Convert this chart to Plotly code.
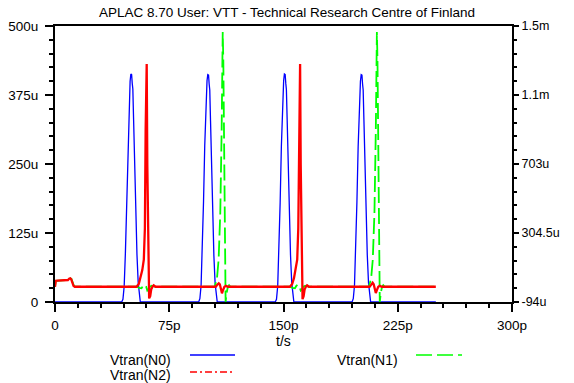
import plotly.graph_objects as go

# ---------------- data (time in ps, voltages in uV) ----------------
t_n0 = [0, 43.8, 44.6, 45.4, 46.2, 47.0, 47.8, 48.6, 49.3, 49.8, 50.3, 50.7, 51.1, 51.6, 52.3, 53.0, 53.8, 54.6, 55.4, 56.0,
        94.3, 95.1, 95.9, 96.7, 97.5, 98.3, 99.1, 99.8, 100.3, 100.8, 101.2, 101.6, 102.1, 102.8, 103.5, 104.3, 105.1, 105.9, 106.5,
        144.6, 145.4, 146.2, 147.0, 147.8, 148.6, 149.4, 150.1, 150.6, 151.1, 151.5, 151.9, 152.4, 153.1, 153.8, 154.6, 155.4, 156.2, 156.8,
        195.0, 195.8, 196.6, 197.4, 198.2, 199.0, 199.8, 200.5, 201.0, 201.5, 201.9, 202.3, 202.8, 203.5, 204.2, 205.0, 205.8, 206.6, 207.2,
        250]
v_n0 = [0, 0, 5, 28, 88, 178, 280, 358, 400, 413, 412, 396, 386, 330, 242, 160, 86, 36, 8, 0,
        0, 6, 30, 92, 182, 283, 360, 401, 412, 411, 395, 384, 328, 240, 158, 84, 34, 7, 0,
        0, 5, 29, 90, 180, 282, 359, 401, 413, 412, 396, 385, 330, 241, 159, 85, 35, 8, 0,
        0, 6, 30, 91, 181, 281, 358, 400, 412, 411, 395, 384, 329, 240, 158, 85, 35, 7, 0,
        0]

t_n1 = [0, 0.5, 5, 8.5, 9.3, 10.0, 10.8, 11.5, 12.4, 13.2,
        53.8, 55.2, 56.8, 57.8, 58.8, 59.8, 60.6, 61.3, 62.3, 63.5, 64.5, 66,
        104.8, 106.3, 107.4, 108.5, 109.4, 110.1, 110.5, 111.2, 112.0, 112.7, 113.5, 114.3, 115.2,
        154.5, 155.9, 157.5, 158.5, 159.5, 160.5, 161.3, 162.0, 163.0, 164.2, 165.2, 166.7,
        206.0, 207.5, 208.6, 209.7, 210.6, 211.3, 211.7, 212.4, 213.2, 213.9, 214.7, 215.5, 216.4,
        250]
v_n1 = [-6, 28, 31, 33, 40, 43, 40, 20, 0, -6,
        -6, -13, -15, 0, 6, -4, -28, -22, -6, 0, -3, -6,
        -6, 40, 150, 420, 900, 1465, 1300, 600, -94, -40, -6, 3, -6,
        -6, -13, -15, 0, 6, -4, -28, -22, -6, 0, -3, -6,
        -6, 40, 150, 420, 900, 1465, 1300, 600, -94, -40, -6, 3, -6,
        -6]

t_n2 = [0, 0.5, 1.5, 5, 8.5, 9.3, 10.0, 10.6, 11.3, 12.2, 13,
        53.5, 55.0, 56.2, 57.3, 58.3, 59.0, 59.5, 59.8, 60.2, 60.6, 61.2, 61.8, 62.5, 63.2, 64.0, 64.8, 66,
        105.5, 106.5, 107.5, 108.2, 109.0, 109.6, 110.3, 111.2, 112.2, 113.5,
        154.2, 155.7, 156.9, 158.0, 159.0, 159.7, 160.2, 160.5, 160.9, 161.3, 161.9, 162.5, 163.2, 163.9, 164.7, 165.5, 166.7,
        206.5, 207.5, 208.5, 209.2, 210.0, 210.6, 211.3, 212.2, 213.2, 214.5,
        250]
v_n2 = [-6, 28, 29, 31, 33, 40, 43, 38, 15, -2, -6,
        -6, 10, 45, 90, 150, 330, 900, 1280, 1280, 700, 150, -73, -60, -20, -6, 2, -6,
        -6, 5, 14, 8, -30, -44, -25, -6, -1, -6,
        -6, 10, 45, 90, 150, 330, 900, 1280, 1280, 700, 150, -78, -60, -20, -6, 2, -6,
        -6, 5, 17, 8, -30, -42, -25, -6, -1, -6,
        -6]

x_tickvals = [0, 75, 150, 225, 300]
x_ticktext = ["0", "75p", "150p", "225p", "300p"]
yl_tickvals = [0, 125, 250, 375, 500]
yl_ticktext = ["0", "125u", "250u", "375u", "500u"]
yr_tickvals = [-94, 304.5, 703, 1101.5, 1500]
yr_ticktext = ["-94u", "304.5u", "703u", "1.1m", "1.5m"]

series_names = ["Vtran(N0)", "Vtran(N1)", "Vtran(N2)"]

FONT = "Liberation Sans, Arial, sans-serif"
BLUE, GREEN, RED = "#0000ff", "#00ff00", "#ff0000"

fig = go.Figure()
fig.add_trace(go.Scatter(x=t_n0, y=v_n0, mode="lines", name=series_names[0],
                         line=dict(color=BLUE, width=1.3), yaxis="y", showlegend=False))
fig.add_trace(go.Scatter(x=t_n1, y=v_n1, mode="lines", name=series_names[1],
                         line=dict(color=GREEN, width=1.8, dash="16px,5px"), yaxis="y2", showlegend=False))
fig.add_trace(go.Scatter(x=t_n2, y=v_n2, mode="lines", name=series_names[2],
                         line=dict(color=RED, width=2.3), yaxis="y2", showlegend=False))

def axis_common(size, tl):
    return dict(showgrid=False, zeroline=False, showline=True, linecolor="black", linewidth=2,
                ticks="outside", tickcolor="black", tickwidth=2, ticklen=tl, automargin=False,
                tickfont=dict(family=FONT, size=size, color="black"))

fig.update_layout(
    width=574, height=383,
    margin=dict(l=55, r=62, t=26, b=81, autoexpand=False),
    paper_bgcolor="white", plot_bgcolor="white",
    showlegend=False,
    title=dict(text="APLAC 8.70 User: VTT - Technical Research Centre of Finland",
               x=0.5, xanchor="center", y=1 - 12 / 383, yanchor="middle", automargin=False,
               font=dict(family=FONT, size=13.5, color="black")),
    xaxis=dict(range=[0, 300], tickmode="array", tickvals=x_tickvals, ticktext=x_ticktext,
               mirror=True, layer="below traces", ticklabelstandoff=2,
               minor=dict(dtick=15, tick0=0, ticks="outside", ticklen=4, tickwidth=2, tickcolor="black"),
               **axis_common(13.5, 8)),
    yaxis=dict(range=[0, 500], tickmode="array", tickvals=yl_tickvals, ticktext=yl_ticktext,
               layer="below traces", ticklabelstandoff=4,
               minor=dict(dtick=25, tick0=0, ticks="outside", ticklen=4, tickwidth=2, tickcolor="black"),
               **axis_common(13.5, 8)),
    yaxis2=dict(range=[-94, 1500], tickmode="array", tickvals=yr_tickvals, ticktext=yr_ticktext,
                overlaying="y", side="right", layer="below traces", ticklabelstandoff=0,
                minor=dict(dtick=79.7, tick0=-94, ticks="outside", ticklen=3, tickwidth=2, tickcolor="black"),
                **axis_common(12.5, 5)),
    hovermode=False,
)

# axis title
fig.add_annotation(text="t/s", xref="paper", yref="paper", x=0.5, y=-39 / 276,
                   xanchor="center", yanchor="middle", showarrow=False,
                   font=dict(family=FONT, size=14, color="black"))

# custom legend: label text followed by a line sample
legend_items = [
    (series_names[0], 108, 360, 190, 235, 355, BLUE, "solid"),
    (series_names[1], 335, 360, 416, 462, 355, GREEN, "16px,5px"),
    (series_names[2], 108, 375, 190, 235, 372, RED, "7px,3px,2px,3px"),
]
PL, PW, PT, PH = 55, 457, 26, 276
for name, tx, ty, x0, x1, ly, col, dash in legend_items:
    fig.add_annotation(text=name, xref="paper", yref="paper",
                       x=(tx - PL) / PW, y=-(ty - PT - PH) / PH,
                       xanchor="left", yanchor="middle", showarrow=False,
                       font=dict(family=FONT, size=14, color="black"))
    fig.add_shape(type="line", xref="paper", yref="paper",
                  x0=(x0 - PL) / PW, x1=(x1 - PL) / PW,
                  y0=-(ly - PT - PH) / PH, y1=-(ly - PT - PH) / PH,
                  line=dict(color=col, width=1.5, dash=dash))

fig.write_html("out.html", config={"displayModeBar": False},
               post_script="document.body.style.margin='0';document.body.style.padding='0';document.body.style.overflow='hidden';")
